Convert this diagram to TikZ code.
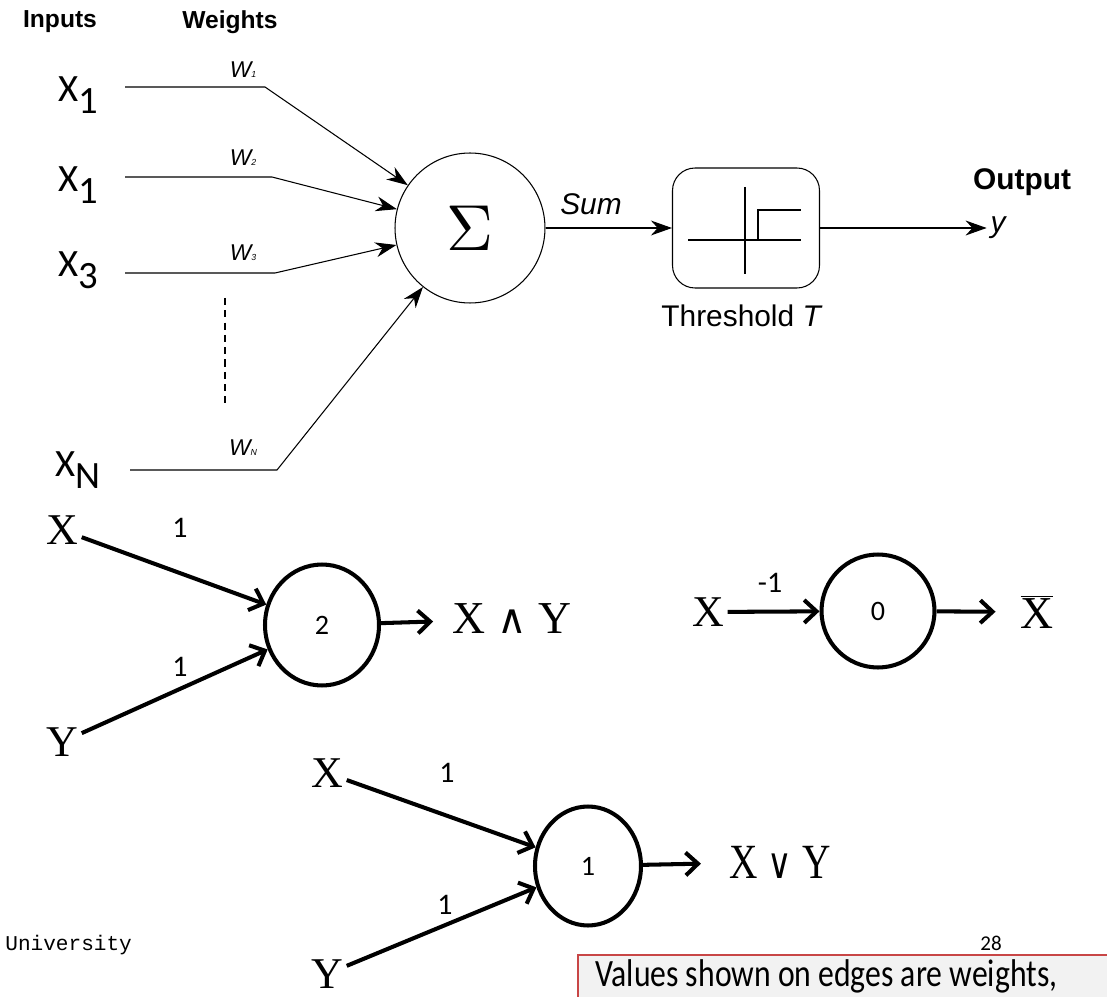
\documentclass[tikz,border=0pt]{standalone}
\usepackage{fontspec}
\setmainfont{Liberation Serif}
\newfontfamily\helv{Liberation Sans}
\newfontfamily\cali{Carlito}
\newfontfamily\monof{Liberation Mono}
\newfontfamily\djv{DejaVu Serif}
\usetikzlibrary{arrows.meta,shapes.geometric}
\definecolor{boxred}{RGB}{200,70,70}
\definecolor{boxgray}{RGB}{242,242,242}
\newcommand{\lowsub}[1]{\raisebox{-0.32em}{#1}}
\newcommand{\wsub}[1]{{\fontsize{5}{5}\selectfont #1}}
\tikzset{
  head/.style={font=\helv\bfseries\fontsize{14}{14}\selectfont, inner sep=1pt},
  inlab/.style={font=\cali\fontsize{22}{22}\selectfont, inner sep=1pt},
  wlab/.style={font=\helv\itshape\fontsize{13}{13}\selectfont, inner sep=1pt},
  slab/.style={font=\helv\fontsize{17}{17}\selectfont, inner sep=1pt},
  wire/.style={line width=0.6pt},
  wirearrow/.style={wire, -{Stealth[length=12pt,width=8.5pt]}},
  sumunit/.style={circle, draw, line width=0.6pt, minimum size=3cm, inner sep=0pt},
  lit/.style={font=\fontsize{25}{25}\selectfont, inner sep=2pt},
  num/.style={font=\cali\fontsize{17}{17}\selectfont, inner sep=1pt},
  unit/.style={ellipse, draw, line width=2.3pt, inner sep=0pt},
  fatarrow/.style={line width=2.3pt, -{Straight Barb[length=7pt,width=13pt]}}
}
\begin{document}
\begin{tikzpicture}[x=0.02cm,y=-0.02cm]
    \useasboundingbox (0,0) rectangle (1107,997);

    % perceptron
    \node[head] (hin) at (60,22) {Inputs};
    \node[head] (hwt) at (230,22) {Weights};

    \node[inlab] (xa) at (78,95) {X\lowsub{1}};
    \node[inlab] (xb) at (78,185) {X\lowsub{1}};
    \node[inlab] (xc) at (78,270) {X\lowsub{3}};
    \node[inlab] (xn) at (78,470) {X\lowsub{N}};

    \coordinate (sa) at (125,87);  \coordinate (ba) at (265,87);
    \coordinate (sb) at (125,177); \coordinate (bb) at (272,177);
    \coordinate (sc) at (125,273); \coordinate (bc) at (275,273);
    \coordinate (sn) at (130,470); \coordinate (bn) at (277,470);

    \node[wlab] (wa) at (243,70) {W\wsub{1}};
    \node[wlab] (wb) at (243,158) {W\wsub{2}};
    \node[wlab] (wc) at (243,253) {W\wsub{3}};
    \node[wlab] (wn) at (243,448) {W\wsub{N}};

    \node[sumunit] (sum) at (470,228) {\scalebox{3.7}{$\Sigma$}};

    \draw[wirearrow] (sa) -- (ba) -- (sum);
    \draw[wirearrow] (sb) -- (bb) -- (sum);
    \draw[wirearrow] (sc) -- (bc) -- (sum);
    \draw[wirearrow] (sn) -- (bn) -- (sum);

    \coordinate (dtop) at (225,298); \coordinate (dbot) at (225,407);
    \draw[wire, dash pattern=on 4pt off 3pt] (dtop) -- (dbot);

    \node[draw, line width=0.6pt, rounded corners=0.45cm, minimum width=2.94cm, minimum height=2.4cm] (thr) at (746,228) {};
    \draw[line width=0.9pt] (688,240) -- (801,240);
    \draw[line width=0.9pt] (745,187) -- (745,274);
    \draw[line width=0.9pt] (758,240) -- (758,210) -- (801,210);

    \node[slab, font=\helv\itshape\fontsize{17}{17}\selectfont] (sumlab) at (591,204) {Sum};
    \node[slab] (thrlab) at (742,316) {Threshold \textit{T}};
    \node[slab, font=\helv\bfseries\fontsize{17}{17}\selectfont] (outlab) at (1022,182) {Output};
    \node[slab, font=\helv\itshape\fontsize{17}{17}\selectfont, inner sep=2pt] (yout) at (998,228) {y};

    \draw[wirearrow] (sum) -- (thr);
    \draw[wirearrow] (thr) -- (yout);

    % and
    \node[lit] (andx) at (62,530) {X};
    \node[lit] (andy) at (62,742) {Y};
    \node[unit, minimum width=2.28cm, minimum height=2.42cm] (and) at (322,625) {\cali\fontsize{16}{16}\selectfont 2};
    \node[lit, font=\fontsize{26}{26}\selectfont] (andout) at (512,619) {X {\djv\fontsize{23}{23}\selectfont ∧} Y};
    \node[num] (andwx) at (180,528) {1};
    \node[num] (andwy) at (180,667) {1};
    \draw[fatarrow] (andx) -- (and);
    \draw[fatarrow] (andy) -- (and);
    \draw[fatarrow, shorten >=9pt] (and) -- (andout);

    % not
    \node[lit] (notx) at (708,612) {X};
    \node[unit, minimum width=2.26cm, minimum height=2.26cm] (not) at (878,611) {\cali\fontsize{16}{16}\selectfont 0};
    \node[lit, font=\fontsize{26}{26}\selectfont] (notout) at (1037,612) {$\overline{\mbox{X}}$};
    \node[num] (notw) at (770,583) {-1};
    \draw[fatarrow] (notx) -- (not);
    \draw[fatarrow, shorten >=12pt] (not) -- (notout);

    % or
    \node[lit] (orx) at (327,773) {X};
    \node[lit] (ory) at (327,974) {Y};
    \node[unit, minimum width=2.12cm, minimum height=2.38cm] (or) at (588,866) {\cali\fontsize{16}{16}\selectfont 1};
    \node[lit, font=\fontsize{28}{28}\selectfont] (orout) at (780,862) {\scalebox{0.8}[1]{X {\djv\fontsize{24}{24}\selectfont ∨} Y}};
    \node[num] (orwx) at (447,773) {1};
    \node[num] (orwy) at (445,905) {1};
    \draw[fatarrow] (orx) -- (or);
    \draw[fatarrow] (ory) -- (or);
    \draw[fatarrow, shorten >=14pt] (or) -- (orout);

    % footer
    \node[anchor=west, font=\monof\fontsize{12}{12}\selectfont, inner sep=0pt] (uni) at (5,945) {University};
    \begin{scope}
        \clip (0,0) rectangle (1107,997);
        \draw[boxred, fill=boxgray, line width=1pt] (578,955) rectangle (1120,1010);
    \end{scope}
    \node[anchor=west, font=\cali\fontsize{22}{22}\selectfont, inner sep=0pt] (note) at (595,976) {\scalebox{0.82}[1]{Values shown on edges are weights,}};
    \node[font=\cali\fontsize{12}{12}\selectfont, inner sep=0pt] (page) at (991,943) {28};
\end{tikzpicture}
\end{document}
